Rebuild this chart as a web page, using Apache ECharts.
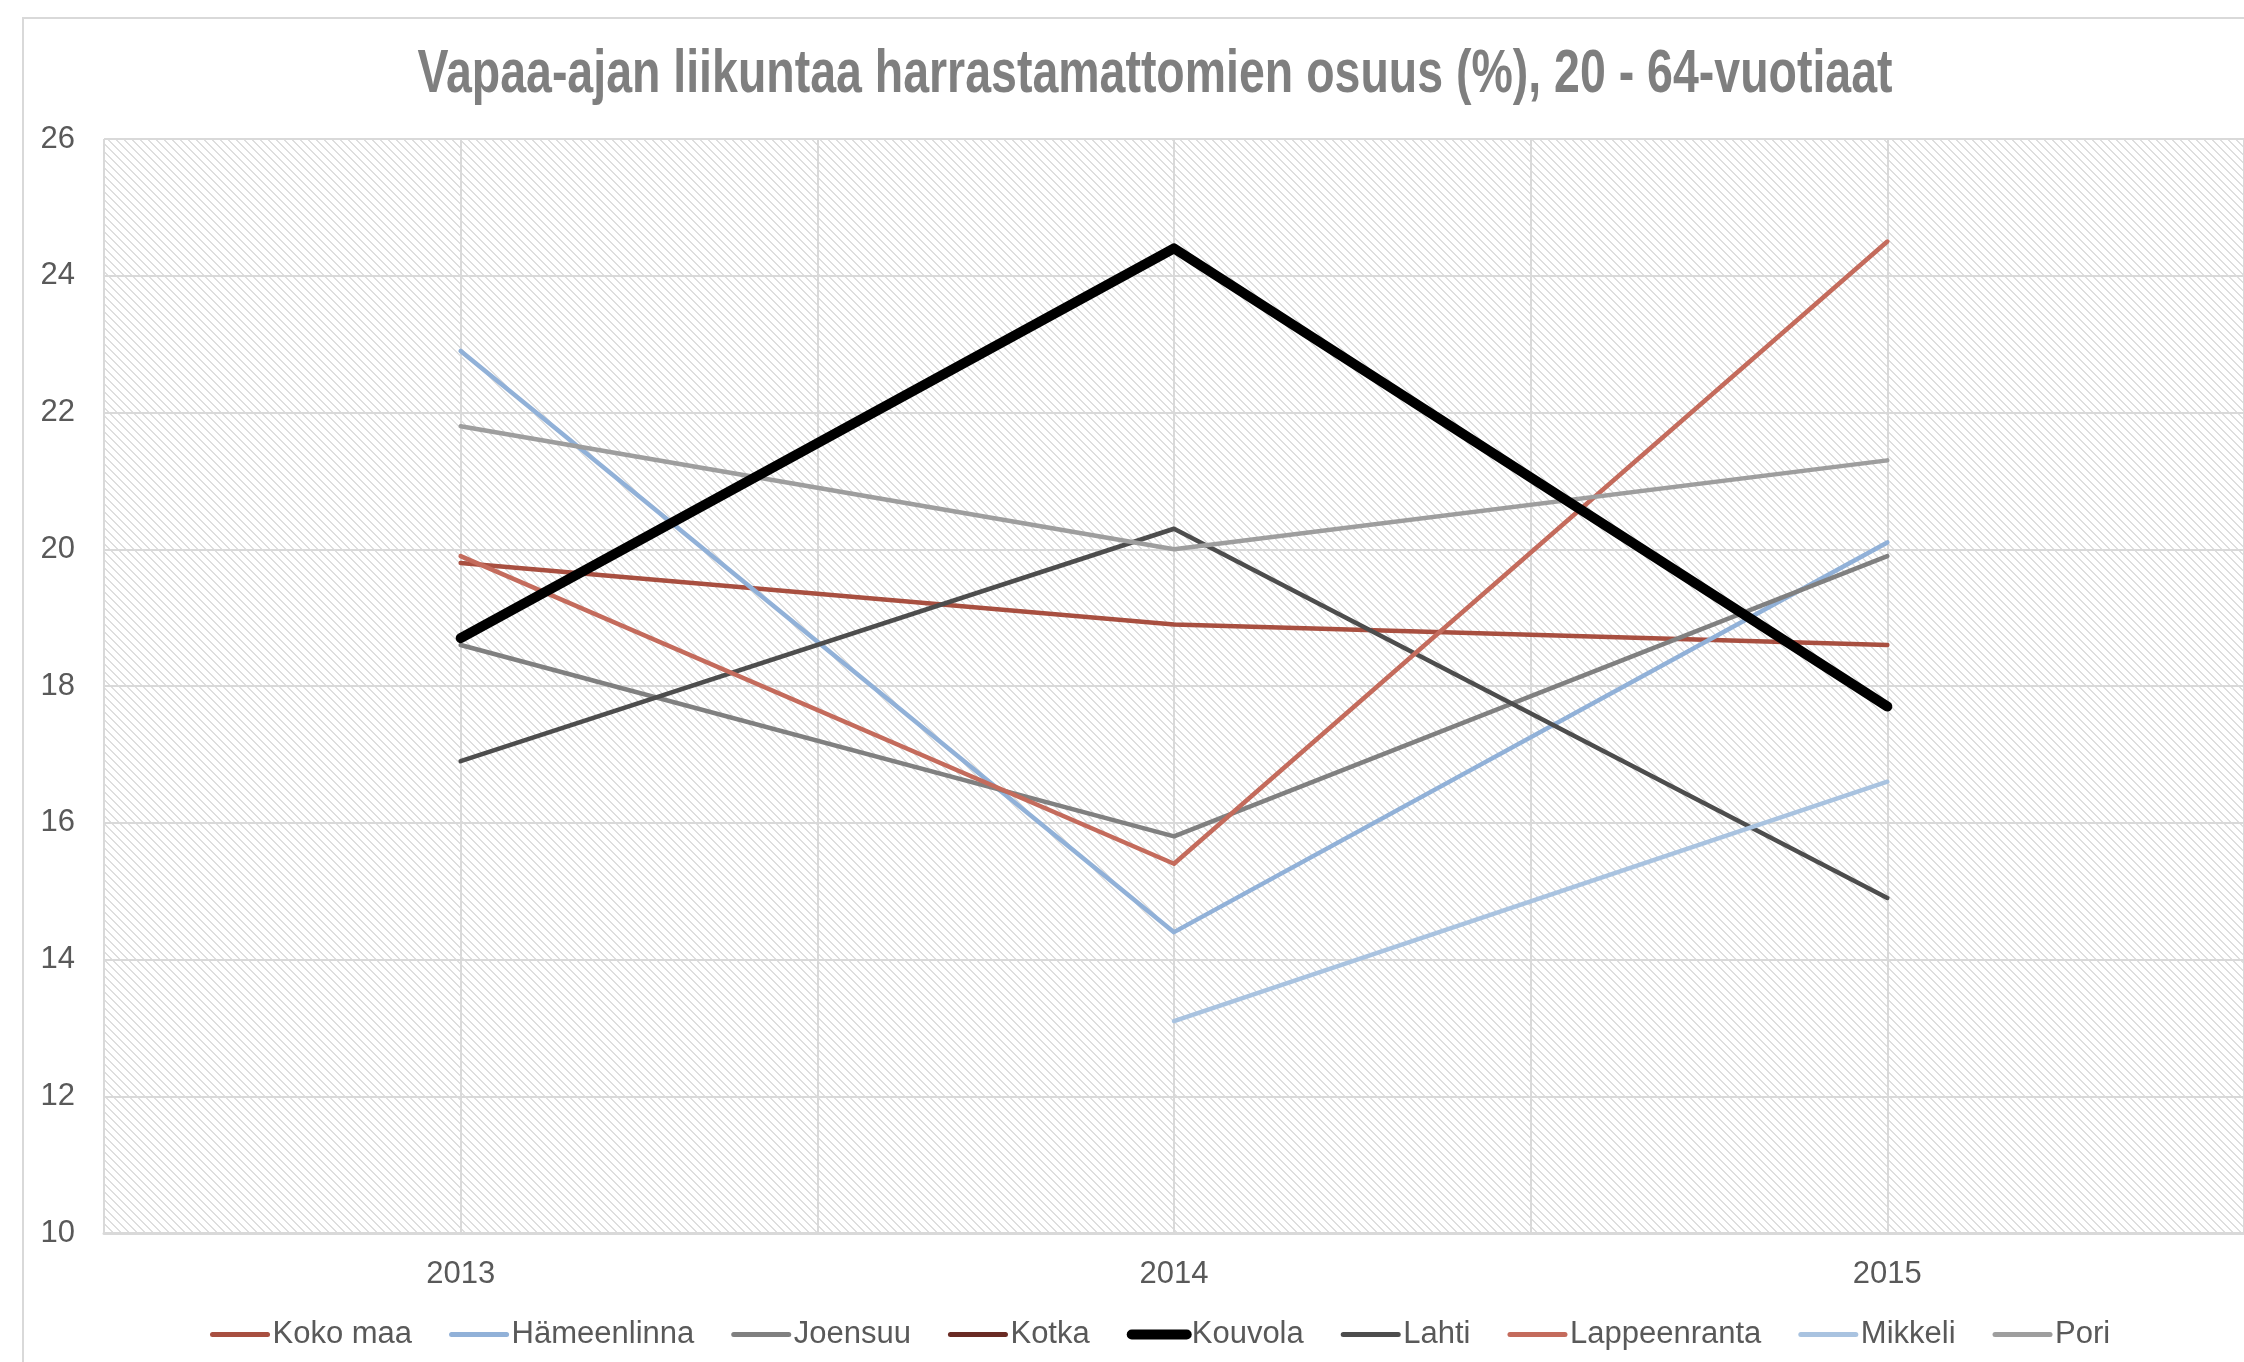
<!DOCTYPE html>
<html>
<head>
<meta charset="utf-8">
<script src="https://cdn.jsdelivr.net/npm/echarts@6/dist/echarts.min.js"></script>
<style>
html,body{margin:0;padding:0;background:#fff;}
#chart{width:2244px;height:1362px;}
</style>
</head>
<body>
<div id="chart"></div>
<script>
// ---- data ----
const titleText = 'Vapaa-ajan liikuntaa harrastamattomien osuus (%), 20 - 64-vuotiaat';
const years = ['2013', '2014', '2015'];
const seriesNames = ['Koko maa', 'Hämeenlinna', 'Joensuu', 'Kotka', 'Kouvola', 'Lahti', 'Lappeenranta', 'Mikkeli', 'Pori'];
const kokoMaa      = [19.8, 18.9, 18.6];
const hameenlinna  = [22.9, 14.4, 20.1];
const joensuu      = [18.6, 15.8, 19.9];
const kotka        = [null, null, null];
const kouvola      = [18.7, 24.4, 17.7];
const lahti        = [16.9, 20.3, 14.9];
const lappeenranta = [19.9, 15.4, 24.5];
const mikkeli      = [null, 13.1, 16.6];
const pori         = [21.8, 20.0, 21.3];
const yTicks = { min: 10, max: 26, interval: 2 };

// ---- styles ----
const seriesData = [kokoMaa, hameenlinna, joensuu, kotka, kouvola, lahti, lappeenranta, mikkeli, pori];
const colors = ['#a84f40', '#91b1d8', '#808080', '#6a2b24', '#000000', '#4d4d4d', '#c46b5c', '#a9c3e0', '#9e9e9e'];
const widths = [4.5, 4.5, 4.5, 4.5, 10, 4.5, 4.5, 4.5, 4.5];

// hatch pattern
const tile = document.createElement('canvas');
tile.width = 8; tile.height = 8;
const tctx = tile.getContext('2d');
tctx.fillStyle = '#ffffff';
tctx.fillRect(0, 0, 8, 8);
tctx.fillStyle = '#dedede';
for (let i = 0; i < 8; i++) {
  tctx.fillRect(i, i, 1, 1);
  tctx.fillRect((i + 1) % 8, i, 1, 1);
}

// title: condensed look via horizontal scale
const titleFont = 'bold 61px "Liberation Sans", Arial, sans-serif';
const mc = document.createElement('canvas').getContext('2d');
mc.font = titleFont;
const titleScaleX = Math.min(1, 1475 / mc.measureText(titleText).width);

const chart = echarts.init(document.getElementById('chart'));
const gridBox = { left: 104, top: 139, width: 2151, height: 1094 };

chart.setOption({
  animation: false,
  textStyle: { fontFamily: '"Liberation Sans", Arial, sans-serif' },
  graphic: [
    {
      type: 'rect', z: -10, silent: true,
      shape: { x: 23, y: 18, width: 2400, height: 1500 },
      style: { fill: 'none', stroke: '#d9d9d9', lineWidth: 2 }
    },
    {
      type: 'text', silent: true,
      x: 1155, y: 75,
      scaleX: titleScaleX, scaleY: 1,
      style: {
        text: titleText, x: 0, y: 0,
        textAlign: 'center', textVerticalAlign: 'middle',
        font: titleFont,
        fill: '#7f7f7f'
      }
    }
  ],
  grid: Object.assign({
    show: true,
    backgroundColor: { image: tile, repeat: 'repeat' },
    borderWidth: 0
  }, gridBox),
  legend: {
    data: seriesNames.map((n, i) => ({
      name: n,
      lineStyle: { width: i === 4 ? 10 : 5, cap: 'round', color: colors[i] }
    })),
    left: 205, top: 1314,
    itemWidth: 55, itemHeight: 12, itemGap: 37,
    itemStyle: { opacity: 0 },
    lineStyle: { width: 5, cap: 'round' },
    textStyle: { fontSize: 31, color: '#595959', fontFamily: '"Liberation Sans", Arial, sans-serif' }
  },
  xAxis: [
    {
      type: 'category', data: years, boundaryGap: true,
      axisLine: { show: true, lineStyle: { color: '#d9d9d9', width: 3 } },
      axisTick: { show: false },
      splitLine: { show: false },
      axisLabel: { fontSize: 31, color: '#595959', margin: 26 }
    },
    {
      type: 'category', data: ['', '', '', '', '', ''], boundaryGap: true,
      position: 'bottom', show: true,
      axisLine: { show: false }, axisTick: { show: false }, axisLabel: { show: false },
      splitLine: { show: true, interval: 0, lineStyle: { color: '#d9d9d9', width: 2 } }
    }
  ],
  yAxis: {
    type: 'value', min: yTicks.min, max: yTicks.max, interval: yTicks.interval,
    axisLine: { show: false }, axisTick: { show: false },
    axisLabel: { fontSize: 31, color: '#595959', margin: 29 },
    splitLine: { show: true, lineStyle: { color: '#d9d9d9', width: 2 } }
  },
  series: seriesNames.map((name, i) => ({
    name: name,
    type: 'line',
    xAxisIndex: 0,
    data: seriesData[i],
    symbol: 'none',
    showSymbol: false,
    connectNulls: false,
    color: colors[i],
    lineStyle: { color: colors[i], width: widths[i], cap: 'round', join: 'round' },
    z: i === 4 ? 5 : 3
  }))
});
</script>
</body>
</html>
